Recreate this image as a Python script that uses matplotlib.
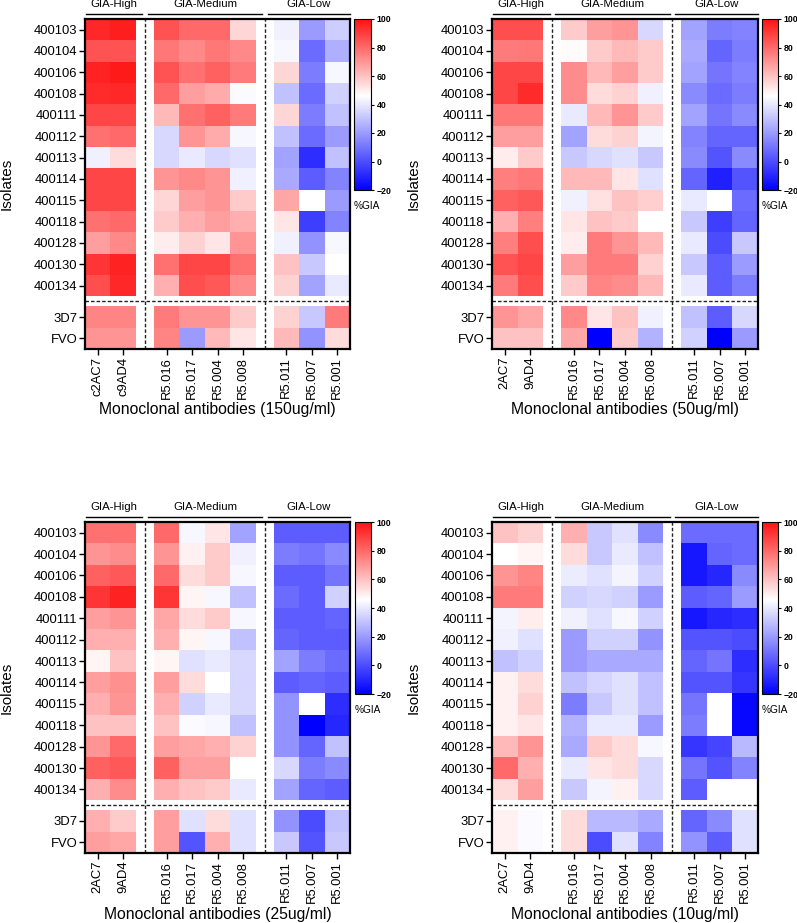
import matplotlib

matplotlib.use("Agg")
import matplotlib.pyplot as plt
import numpy as np
from matplotlib.colors import LinearSegmentedColormap, Normalize

plt.rcParams["font.family"] = ["Liberation Sans", "DejaVu Sans"]

# --- data (%GIA; nan = not tested) ---
ISOLATES = ["400103", "400104", "400106", "400108", "400111", "400112", "400113",
            "400114", "400115", "400118", "400128", "400130", "400134"]
CONTROLS = ["3D7", "FVO"]
ANTIBODIES = ["2AC7", "9AD4", "R5.016", "R5.017", "R5.004", "R5.008",
              "R5.011", "R5.007", "R5.001"]
ANTIBODIES_150 = ["c2AC7", "c9AD4", "R5.016", "R5.017", "R5.004", "R5.008",
                  "R5.011", "R5.007", "R5.001"]
GROUPS = ["GIA-High", "GIA-Medium", "GIA-Low"]
GROUP_SIZES = [2, 4, 3]
CONCENTRATIONS = ["150ug/ml", "50ug/ml", "25ug/ml", "10ug/ml"]

nan = np.nan
GIA_150 = [
    [95, 97, 85, 80, 80, 55, 42, 20, 33],
    [85, 85, 77, 73, 77, 73, 44, 8, 25],
    [96, 98, 85, 78, 82, 76, 55, 12, 44],
    [94, 95, 80, 68, 65, 45, 30, 8, 34],
    [88, 88, 62, 78, 82, 76, 55, 12, 30],
    [78, 80, 36, 70, 65, 44, 30, 8, 20],
    [42, 54, 36, 40, 36, 38, 22, -8, 30],
    [88, 88, 70, 73, 70, 42, 24, 4, 14],
    [88, 88, 55, 68, 70, 58, 66, nan, 20],
    [78, 80, 58, 64, 68, 64, 52, -4, 14],
    [68, 73, 50, 56, 52, 70, 42, 18, 44],
    [92, 96, 78, 88, 88, 78, 60, 32, 46],
    [86, 95, 64, 86, 84, 72, 56, 22, 40],
    [74, 74, 76, 70, 70, 58, 56, 32, 76],
    [70, 70, 74, 20, 62, 52, 62, 18, 54],
]
GIA_50 = [
    [86, 86, 58, 68, 70, 36, 22, 12, 14],
    [76, 77, 47, 58, 62, 58, 24, 6, 12],
    [88, 88, 72, 62, 68, 58, 22, 10, 14],
    [88, 94, 72, 54, 56, 42, 16, 8, 12],
    [77, 77, 40, 62, 70, 58, 22, 10, 16],
    [68, 68, 22, 54, 56, 43, 14, 6, 6],
    [50, 58, 32, 36, 38, 32, 16, 2, 16],
    [75, 77, 62, 62, 52, 38, 6, -12, 2],
    [82, 84, 42, 53, 60, 57, 40, nan, 8],
    [64, 75, 52, 60, 58, 46, 32, -4, 6],
    [75, 86, 50, 76, 70, 62, 40, 0, 32],
    [85, 88, 68, 76, 76, 56, 32, 4, 20],
    [76, 86, 58, 74, 72, 62, 40, 4, 12],
    [70, 66, 73, 52, 60, 42, 30, 4, 36],
    [60, 60, 66, -20, 58, 26, 34, -20, 20],
]
GIA_25 = [
    [78, 78, 80, 44, 52, 22, 4, 4, 4],
    [70, 72, 70, 49, 58, 42, 12, 10, 16],
    [82, 84, 80, 54, 58, 44, 4, 4, 10],
    [92, 96, 92, 48, 44, 30, 8, 4, 34],
    [68, 70, 66, 54, 58, 44, 4, 4, 6],
    [64, 64, 64, 48, 44, 30, 6, 4, 4],
    [48, 60, 48, 38, 40, 36, 22, 12, 8],
    [68, 71, 68, 54, 46, 36, 4, 6, 4],
    [64, 70, 64, 34, 40, 36, 18, nan, -8],
    [60, 60, 60, 45, 44, 30, 18, -20, -10],
    [70, 80, 68, 66, 64, 56, 18, 6, 30],
    [82, 84, 82, 68, 68, 46, 36, 12, 16],
    [64, 72, 64, 60, 58, 40, 22, 6, 4],
    [64, 58, 68, 38, 54, 38, 18, 0, 30],
    [68, 66, 68, 2, 64, 38, 32, 2, 32],
]
GIA_10 = [
    [60, 56, 64, 32, 38, 16, 8, 8, 8],
    [46, 48, 54, 32, 40, 30, -14, 6, 8],
    [70, 74, 41, 38, 43, 34, -14, -10, 16],
    [76, 76, 34, 36, 34, 20, 4, 6, 20],
    [43, 50, 42, 38, 44, 34, -14, -10, -8],
    [42, 38, 20, 34, 34, 18, 2, 2, 0],
    [30, 34, 20, 24, 24, 24, 6, 10, -8],
    [49, 54, 30, 35, 38, 30, 2, 2, -6],
    [49, 56, 12, 32, 38, 30, 10, nan, -18],
    [49, 52, 26, 40, 40, 20, 12, nan, -18],
    [62, 70, 24, 58, 54, 44, -6, -2, 28],
    [80, 64, 40, 52, 54, 36, 10, 2, 14],
    [54, 68, 32, 43, 49, 36, 4, nan, nan],
    [49, 45, 54, 28, 28, 24, 6, 16, 38],
    [49, 45, 54, 0, 38, 14, 18, 4, 38],
]

VMIN, VMID, VMAX = -20, 46, 100
COL_GAP = 0.7
ROW_GAP = 0.47
W, H = 797, 923

mid = (VMID - VMIN) / (VMAX - VMIN)
CMAP = LinearSegmentedColormap.from_list(
    "gia", [(0.0, (0.0, 0.0, 1.0)), (mid, (1.0, 1.0, 1.0)), (1.0, (1.0, 0.07, 0.07))])
NORM = Normalize(vmin=VMIN, vmax=VMAX)


def px_rect(left, top, width, height):
    return [left / W, 1 - (top + height) / H, width / W, height / H]


def draw_panel(fig, rect, cbar_rect, values, antibodies, conc):
    ax = fig.add_axes(px_rect(*rect))
    cax = fig.add_axes(px_rect(*cbar_rect))
    vals = np.array(values, dtype=float)
    n_iso = len(ISOLATES)
    n_rows = n_iso + len(CONTROLS)
    row_blocks = [(0, n_iso, 0.0), (n_iso, n_rows, ROW_GAP)]

    xcenters = []
    group_spans = []
    col = 0
    mesh = None
    for gi, size in enumerate(GROUP_SIZES):
        x0 = col + gi * COL_GAP
        for r0, r1, off in row_blocks:
            block = np.ma.masked_invalid(vals[r0:r1, col:col + size])
            xe = x0 + np.arange(size + 1)
            ye = r0 + off + np.arange(r1 - r0 + 1)
            mesh = ax.pcolormesh(xe, ye, block, cmap=CMAP, norm=NORM)
        xcenters.extend(x0 + 0.5 + np.arange(size))
        group_spans.append((x0, x0 + size))
        col += size

    xmax = group_spans[-1][1]
    ymax = n_rows + ROW_GAP
    ax.set_xlim(0, xmax)
    ax.set_ylim(ymax, 0)

    # separators between groups / isolates and lab strains
    for k in range(len(group_spans) - 1):
        xs = (group_spans[k][1] + group_spans[k + 1][0]) / 2
        ax.axvline(xs, color="#222222", lw=1.0, ls=(0, (2.5, 1.5)))
    ax.axhline(n_iso + ROW_GAP / 2, color="#222222", lw=1.0, ls=(0, (2.5, 1.5)))

    ycenters = list(0.5 + np.arange(n_iso)) + list(n_iso + ROW_GAP + 0.5 + np.arange(len(CONTROLS)))
    ax.set_yticks(ycenters)
    ax.set_yticklabels(ISOLATES + CONTROLS, fontsize=9.4)
    ax.set_xticks(xcenters)
    ax.set_xticklabels(antibodies, rotation=90, fontsize=9.4)
    ax.tick_params(length=4, width=1, pad=1.5)
    for sp in ax.spines.values():
        sp.set_linewidth(1.6)

    # group brackets above the heatmap
    trans = ax.get_xaxis_transform()
    for gi, (a, b) in enumerate(group_spans):
        la = 0.04 if gi == 0 else a - COL_GAP / 2 + 0.12
        lb = xmax if gi == len(group_spans) - 1 else b + COL_GAP / 2 - 0.1
        ax.plot([la, lb], [1.016, 1.016], color="black", lw=1.0,
                transform=trans, clip_on=False)
        ax.text((la + lb) / 2, 1.044, GROUPS[gi], transform=trans,
                ha="center", va="center", fontsize=8.2)

    ax.set_ylabel("Isolates", fontsize=11)
    ax.yaxis.set_label_coords(-0.268, 0.5)
    ax.set_xlabel(f"Monoclonal antibodies ({conc})", fontsize=11.3)
    ax.xaxis.set_label_coords(0.5, -0.162)

    cb = fig.colorbar(mesh, cax=cax, ticks=[-20, 0, 20, 40, 60, 80, 100])
    cb.outline.set_linewidth(0.8)
    cax.tick_params(labelsize=6.3, length=2, width=0.8, pad=2)
    for lab in cax.get_yticklabels():
        lab.set_fontweight("bold")
    cax.text(0.0, -0.095, "%GIA", transform=cax.transAxes, ha="left",
             va="center", fontsize=7.3)


def main():
    fig = plt.figure(figsize=(W / 100, H / 100), dpi=100)
    panels = [
        ((85, 19, 265, 330), (354, 19, 17, 171), GIA_150, ANTIBODIES_150, CONCENTRATIONS[0]),
        ((492, 19, 266, 330), (762, 19, 16, 171), GIA_50, ANTIBODIES, CONCENTRATIONS[1]),
        ((85, 522, 265, 331), (355, 522, 16, 172), GIA_25, ANTIBODIES, CONCENTRATIONS[2]),
        ((492, 522, 266, 331), (762, 522, 16, 172), GIA_10, ANTIBODIES, CONCENTRATIONS[3]),
    ]
    for rect, crect, vals, abs_, conc in panels:
        draw_panel(fig, rect, crect, vals, abs_, conc)
    fig.savefig("out.png", dpi=100)
    plt.close(fig)


if __name__ == "__main__":
    main()
